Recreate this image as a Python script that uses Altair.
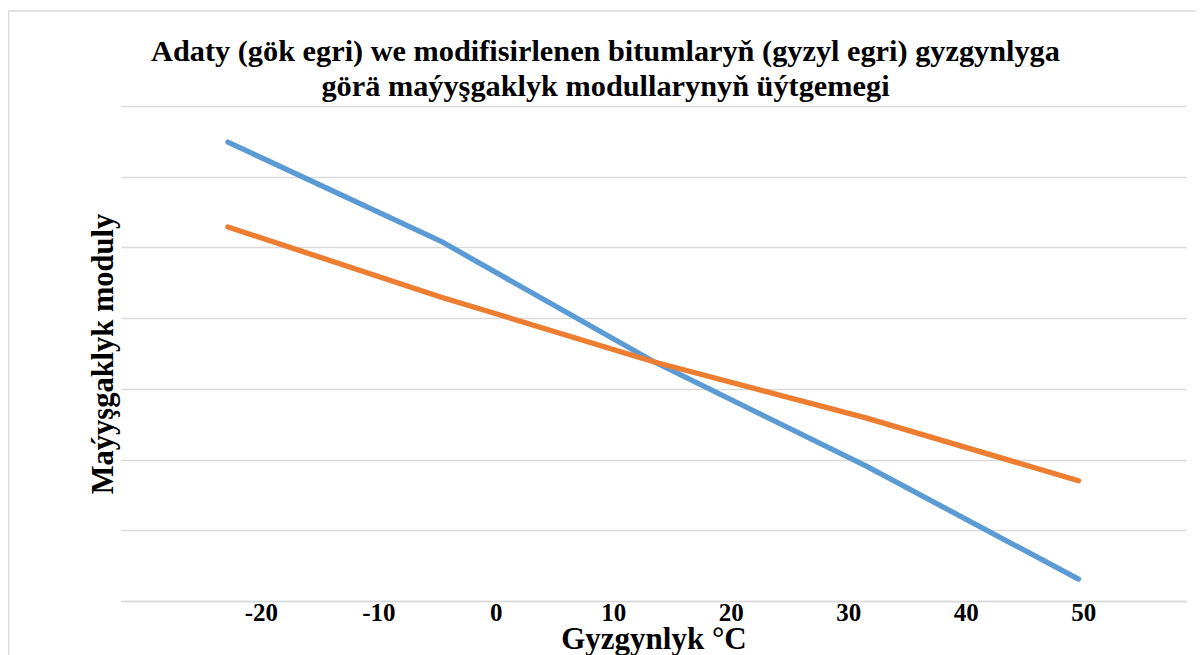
import altair as alt
import pandas as pd

# Data (y in arbitrary grid units, 7 grid intervals)
temps = [-22.8, -4.7, 13.5, 31.5, 49.6]
adaty = [6.49, 5.09, 3.38, 1.91, 0.31]      # blue curve (adaty bitum)
modif = [5.29, 4.30, 3.38, 2.59, 1.70]      # orange curve (modifisirlenen bitum)
series_names = ["Adaty bitum (gök egri)", "Modifisirlenen bitum (gyzyl egri)"]
series_colors = ["#5B9BD5", "#ED7D31"]
x_ticks = [-20, -10, 0, 10, 20, 30, 40, 50]
y_grid = [0, 1, 2, 3, 4, 5, 6, 7]
title_lines = [
    "Adaty (gök egri) we modifisirlenen bitumlaryň (gyzyl egri) gyzgynlyga",
    "görä maýyşgaklyk modullarynyň üýtgemegi",
]

rows = []
for t, a, m in zip(temps, adaty, modif):
    rows.append({"t": t, "v": a, "s": series_names[0]})
    rows.append({"t": t, "v": m, "s": series_names[1]})
df = pd.DataFrame(rows)

FONT = "Liberation Serif"
GRID = "#d9d9d9"
W, H = 1065, 495

lines = alt.Chart(df).mark_line(
    strokeWidth=5.3, strokeCap="round", strokeJoin="round"
).encode(
    x=alt.X(
        "t:Q",
        scale=alt.Scale(domain=[-31.9, 58.75], nice=False, zero=False),
        axis=alt.Axis(
            values=x_ticks, title="Gyzgynlyk °C", grid=False, ticks=False,
            domain=True, domainColor=GRID, domainWidth=1.3,
            labelExpr="'' + datum.value",
            labelFont=FONT, labelFontSize=25, labelFontWeight="bold",
            labelColor="black", labelPadding=-1, labelFlush=False,
            titleFont=FONT, titleFontSize=31, titleFontWeight="bold",
            titleColor="black", titleBaseline="alphabetic",
            titleX=W / 2, titleY=47,
        ),
    ),
    y=alt.Y(
        "v:Q",
        scale=alt.Scale(domain=[0, 7], nice=False, zero=False),
        axis=alt.Axis(
            values=y_grid, labels=False, ticks=False, domain=False,
            grid=True, gridColor=GRID, gridWidth=1.3,
            title="Maýyşgaklyk moduly", titleFont=FONT, titleFontSize=30.5,
            titleFontWeight="bold", titleColor="black",
            titleBaseline="middle", titleX=-18, titleY=H / 2,
        ),
    ),
    color=alt.Color(
        "s:N",
        scale=alt.Scale(domain=series_names, range=series_colors),
        legend=None,
    ),
)

border = alt.Chart(pd.DataFrame({"a": [0]})).mark_rect(
    fillOpacity=0, stroke=GRID, strokeWidth=1.5
).encode(
    x=alt.value(-112.5), x2=alt.value(1080),
    y=alt.value(-95), y2=alt.value(560),
)

chart = alt.layer(border, lines).properties(
    width=W,
    height=H,
    autosize="none",
    padding={"left": 113, "top": 98, "right": 10, "bottom": 54},
    title=alt.TitleParams(
        text=title_lines, font=FONT, fontSize=30.3, fontWeight="bold",
        color="black", anchor="middle", frame="group", dx=-48, offset=-122.5,
        baseline="bottom", lineHeight=35,
    ),
).configure_view(strokeWidth=0)

chart.save("out.html", embed_options={"renderer": "svg", "actions": False})
